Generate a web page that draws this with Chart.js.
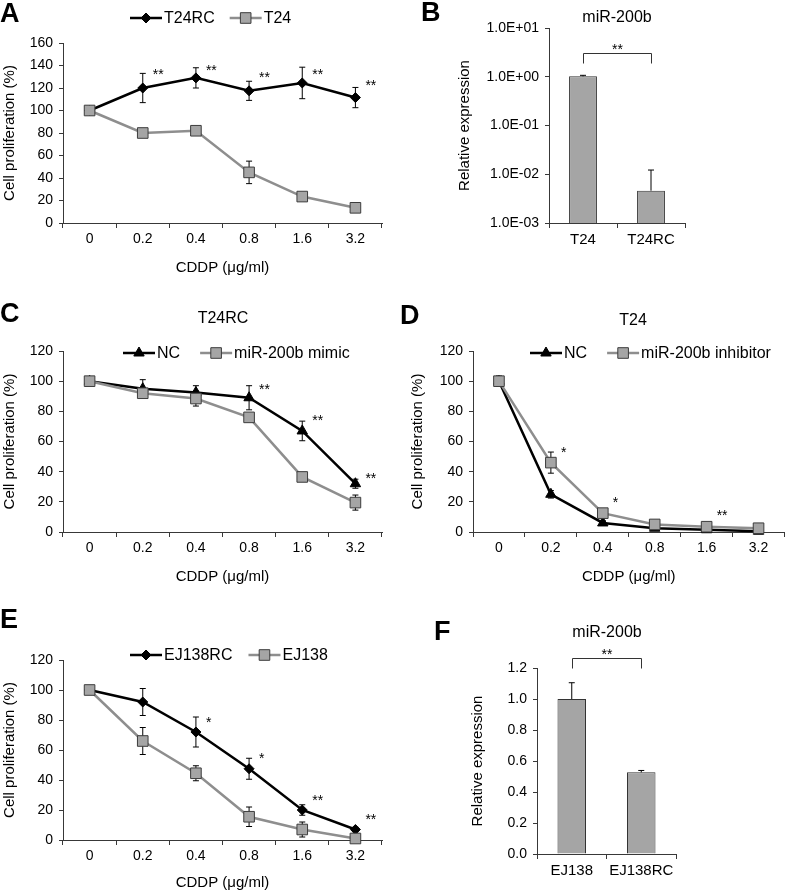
<!DOCTYPE html>
<html>
<head>
<meta charset="utf-8">
<script src="https://cdn.jsdelivr.net/npm/chart.js@4.4.0/dist/chart.umd.min.js"></script>
<style>
  body { margin: 0; background: #fff; }
  #fig { position: relative; width: 793px; height: 892px; overflow: hidden;
         font-family: "Liberation Sans", Arial, sans-serif; color: #000; }
  #fig canvas { position: absolute; }
  .lbl { position: absolute; font-weight: bold; font-size: 27px; line-height: 27px; }
  .ttl { position: absolute; font-size: 16px; line-height: 16px; transform: translateX(-50%); white-space: nowrap; }
</style>
</head>
<body>
<div id="fig">
  <canvas id="cA" width="396" height="285" style="left:0;top:0"></canvas>
  <canvas id="cB" width="393" height="285" style="left:400px;top:0"></canvas>
  <canvas id="cC" width="396" height="302" style="left:0;top:288px"></canvas>
  <canvas id="cD" width="393" height="302" style="left:400px;top:288px"></canvas>
  <canvas id="cE" width="396" height="297" style="left:0;top:595px"></canvas>
  <canvas id="cF" width="393" height="297" style="left:400px;top:595px"></canvas>

  <div class="lbl" style="left:0;top:0">A</div>
  <div class="lbl" style="left:421px;top:-1px">B</div>
  <div class="lbl" style="left:0;top:300px">C</div>
  <div class="lbl" style="left:400px;top:302px">D</div>
  <div class="lbl" style="left:0;top:606px">E</div>
  <div class="lbl" style="left:434px;top:618px">F</div>

  <div class="ttl" style="left:617px;top:9px">miR-200b</div>
  <div class="ttl" style="left:223px;top:310px">T24RC</div>
  <div class="ttl" style="left:633px;top:312px">T24</div>
  <div class="ttl" style="left:607px;top:624px">miR-200b</div>
</div>
<script>
// ---- data ----
const doses = ['0', '0.2', '0.4', '0.8', '1.6', '3.2'];

// A: T24RC vs T24
const aT24RC = [100, 120, 129, 117.5, 124.5, 111.5];
const aT24RCErr = [2, 13, 9, 8.5, 14, 9];
const aT24 = [100, 80, 82, 45, 23.5, 13.5];
const aT24Err = [2, 1.5, 1.5, 10, 2, 1.5];
const aSig = ['', '**', '**', '**', '**', '**'];
const aSigAt = [0, 135, 138.5, 132.5, 135, 125];

// B: miR-200b, log scale
const bCats = ['T24', 'T24RC'];
const bVals = [1.02, 0.0046];
const bErr = [0.05, 0.0076];
const bTickVals = [0.001, 0.01, 0.1, 1, 10];
const bTicks = ['1.0E-03', '1.0E-02', '1.0E-01', '1.0E+00', '1.0E+01'];

// C: T24RC, NC vs mimic
const cNC = [100, 95, 92.5, 89, 67, 32];
const cNCErr = [1.5, 6, 4.5, 8, 6.5, 3];
const cMimic = [100, 92, 88.5, 76, 36.5, 19.5];
const cMimicErr = [1, 2, 5, 2, 1.5, 5];
const cSig = ['', '', '', '**', '**', '**'];
const cSigAt = [0, 0, 0, 97, 76, 38];

// D: T24, NC vs inhibitor
const dNC = [100, 25, 6, 2.5, 1.5, 0.5];
const dNCErr = [2, 2.5, 1.5, 0.5, 0.5, 0.5];
const dInh = [100, 46, 12.5, 5, 3.5, 2.5];
const dInhErr = [3.5, 7, 1.5, 1, 1, 1];
const dSig = ['', '*', '*', '', '**', ''];
const dSigAt = [0, 55, 22, 0, 13, 0];

// E: EJ138RC vs EJ138
const eRC = [100, 92, 72, 47.5, 20, 7];
const eRCErr = [3, 9, 10, 7, 3.5, 1.5];
const eEJ = [100, 66, 44.5, 15.5, 7, 1];
const eEJErr = [2, 9, 5, 6.5, 5, 1];
const eSig = ['', '', '*', '*', '**', '**'];
const eSigAt = [0, 0, 81, 56.5, 29, 16];

// F: miR-200b, linear
const fCats = ['EJ138', 'EJ138RC'];
const fVals = [1.0, 0.527];
const fErr = [0.105, 0.012];
const fTicks = ['0.0', '0.2', '0.4', '0.6', '0.8', '1.0', '1.2'];

// ---- look ----
const fam = '"Liberation Sans", Arial, sans-serif';
Chart.defaults.font.family = fam;
Chart.defaults.color = '#000';
const axisColor = '#383838';

// error bars; bars get upper whisker only
const errorBars = {
  id: 'errorBars',
  beforeDatasetsDraw(chart, args, o) { if (!o.upOnly) draw(chart); },
  afterDatasetsDraw(chart, args, o) { if (o.upOnly) draw(chart, true); }
};
function draw(chart, upOnly) {
  const ctx = chart.ctx, ys = chart.scales.y;
  ctx.save();
  ctx.strokeStyle = '#000';
  ctx.lineWidth = 1;
  chart.data.datasets.forEach((ds, i) => {
    if (!ds.errors) return;
    chart.getDatasetMeta(i).data.forEach((el, j) => {
      const v = ds.data[j], e = ds.errors[j];
      const top = ys.getPixelForValue(v + e);
      const bot = upOnly ? ys.getPixelForValue(v) : ys.getPixelForValue(v - e);
      ctx.beginPath();
      ctx.moveTo(el.x, top); ctx.lineTo(el.x, bot);
      ctx.moveTo(el.x - 3, top); ctx.lineTo(el.x + 3, top);
      if (!upOnly) { ctx.moveTo(el.x - 3, bot); ctx.lineTo(el.x + 3, bot); }
      ctx.stroke();
    });
  });
  ctx.restore();
}

// significance stars next to points
const stars = {
  id: 'stars',
  afterDraw(chart, args, o) {
    if (!o.labels) return;
    const ctx = chart.ctx, xs = chart.scales.x, ys = chart.scales.y;
    ctx.save();
    ctx.font = '14px ' + fam;
    ctx.fillStyle = '#000';
    ctx.textAlign = 'left';
    o.labels.forEach((s, i) => {
      if (!s) return;
      ctx.fillText(s, xs.getPixelForValue(i) + 10, ys.getPixelForValue(o.at[i]) + 8);
    });
    ctx.restore();
  }
};

// bracket over the two bars
const bracket = {
  id: 'bracket',
  afterDraw(chart, args, o) {
    if (!o.text) return;
    const ctx = chart.ctx, xs = chart.scales.x;
    const y = Math.round(chart.scales.y.getPixelForValue(o.value)) + 0.5;
    const x0 = Math.round(xs.getPixelForValue(0)) + 0.5, x1 = Math.round(xs.getPixelForValue(1)) + 0.5;
    ctx.save();
    ctx.strokeStyle = '#333';
    ctx.lineWidth = 1;
    ctx.beginPath();
    ctx.moveTo(x0, y + 10); ctx.lineTo(x0, y); ctx.lineTo(x1, y); ctx.lineTo(x1, y + 10);
    ctx.stroke();
    ctx.font = '14px ' + fam;
    ctx.fillStyle = '#000';
    ctx.textAlign = 'center';
    ctx.fillText(o.text, (x0 + x1) / 2, y);
    ctx.restore();
  }
};

// legend: short line with its marker, then the label
const lineLegend = {
  id: 'lineLegend',
  afterDraw(chart, args, o) {
    if (o.x === undefined) return;
    const ctx = chart.ctx;
    let x = o.x - chart.canvas.offsetLeft;
    const y = o.y - chart.canvas.offsetTop;
    ctx.save();
    ctx.font = '16px ' + fam;
    ctx.textBaseline = 'middle';
    chart.data.datasets.forEach(ds => {
      ctx.strokeStyle = ds.borderColor;
      ctx.lineWidth = ds.borderWidth;
      ctx.beginPath(); ctx.moveTo(x, y); ctx.lineTo(x + 32, y); ctx.stroke();
      ctx.fillStyle = ds.pointBackgroundColor;
      ctx.strokeStyle = ds.pointBorderColor;
      ctx.lineWidth = ds.pointBorderWidth;
      Chart.helpers.drawPoint(ctx, { pointStyle: ds.pointStyle, radius: ds.pointRadius, rotation: 0, borderWidth: ds.pointBorderWidth }, x + 16, y);
      ctx.fillStyle = '#000';
      ctx.fillText(ds.label, x + 34, y + 1);
      x += 34 + ctx.measureText(ds.label).width + o.gap;
    });
    ctx.restore();
  }
};

// canvas box + plot area (page px) -> paddings / fixed scale sizes
function frame(box, area, yTitleX, xTitleY) {
  return {
    padding: { left: 0, top: area.t - box.y, right: box.x + box.w - area.r, bottom: 0 },
    yWidth: area.l - box.x,
    xHeight: box.y + box.h - area.b,
    yTitlePad: yTitleX - box.x - 9,
    xTitlePad: xTitleY ? Math.max(0, box.y + box.h - xTitleY - 9) : 0
  };
}

function xAxis(f, size, title) {
  return {
    type: 'category', offset: true,
    grid: { display: true, drawOnChartArea: false, drawTicks: true, tickLength: 5, offset: true, color: axisColor },
    border: { display: true, color: axisColor },
    ticks: { font: { size: size }, padding: 3, maxRotation: 0, autoSkip: false },
    title: title ? { display: true, text: title, font: { size: 15 }, padding: { top: 0, bottom: f.xTitlePad } } : { display: false },
    afterFit: s => { s.height = f.xHeight; }
  };
}
function yGrid(f, title) {
  return {
    grid: { display: true, drawOnChartArea: false, drawTicks: true, tickLength: 4, color: axisColor },
    border: { display: true, color: axisColor },
    title: { display: true, text: title, font: { size: 15 }, padding: { top: f.yTitlePad, bottom: 0 } },
    afterFit: s => { s.width = f.yWidth; }
  };
}

function blackSet(label, data, errors, style, r) {
  return { label, data, errors, order: 1, clip: false,
    borderColor: '#000', borderWidth: 2.5,
    pointStyle: style, pointRadius: r, pointBackgroundColor: '#000', pointBorderColor: '#000', pointBorderWidth: 1 };
}
function greySet(label, data, errors) {
  return { label, data, errors, order: 0, clip: false,
    borderColor: '#8e8e8e', borderWidth: 2.5,
    pointStyle: 'rect', pointRadius: 7.5, pointBackgroundColor: '#a5a5a5', pointBorderColor: '#3c3c3c', pointBorderWidth: 1 };
}

function linePanel(id, f, yMax, sets, sig, sigAt, legendAt) {
  const y = Object.assign(yGrid(f, 'Cell proliferation (%)'), {
    min: 0, max: yMax, ticks: { stepSize: 20, font: { size: 14 }, padding: 6 }
  });
  new Chart(document.getElementById(id), {
    type: 'line',
    data: { labels: doses, datasets: sets },
    options: {
      responsive: false, animation: false, events: [],
      layout: { padding: f.padding },
      scales: { x: xAxis(f, 14, 'CDDP (\u03bcg/ml)'), y: y },
      plugins: {
        legend: { display: false }, tooltip: { enabled: false },
        errorBars: {}, stars: { labels: sig, at: sigAt }, lineLegend: legendAt
      }
    },
    plugins: [errorBars, stars, lineLegend]
  });
}

function barPanel(id, f, cats, vals, errs, y, brk) {
  new Chart(document.getElementById(id), {
    type: 'bar',
    data: { labels: cats, datasets: [{ data: vals, errors: errs,
      backgroundColor: '#a5a5a5', borderColor: '#333', borderWidth: 1,
      barPercentage: 0.41, categoryPercentage: 1 }] },
    options: {
      responsive: false, animation: false, events: [],
      layout: { padding: f.padding },
      scales: { x: xAxis(f, 15), y: Object.assign(yGrid(f, 'Relative expression'), y) },
      plugins: {
        legend: { display: false }, tooltip: { enabled: false },
        errorBars: { upOnly: true }, bracket: brk
      }
    },
    plugins: [errorBars, bracket]
  });
}

// A
linePanel('cA',
  frame({ x: 0, y: 0, w: 396, h: 285 }, { l: 63, t: 43, r: 382, b: 223 }, 10, 268), 160,
  [blackSet('T24RC', aT24RC, aT24RCErr, 'rectRot', 5), greySet('T24', aT24, aT24Err)],
  aSig, aSigAt, { x: 130, y: 18, gap: 15 });

// B
barPanel('cB',
  frame({ x: 400, y: 0, w: 393, h: 285 }, { l: 549, t: 28, r: 685, b: 223 }, 465),
  bCats, bVals, bErr,
  { type: 'logarithmic', min: 0.001, max: 10,
    afterBuildTicks: s => { s.ticks = bTickVals.map(v => ({ value: v })); },
    ticks: { font: { size: 14 }, padding: 6, autoSkip: false, callback: (v, i) => bTicks[i] } },
  { value: 3.1, text: '**' });

// C
linePanel('cC',
  frame({ x: 0, y: 288, w: 396, h: 302 }, { l: 63, t: 351, r: 382, b: 532 }, 10, 577), 120,
  [blackSet('NC', cNC, cNCErr, 'triangle', 6), greySet('miR-200b mimic', cMimic, cMimicErr)],
  cSig, cSigAt, { x: 123, y: 353, gap: 20 });

// D
linePanel('cD',
  frame({ x: 400, y: 288, w: 393, h: 302 }, { l: 473, t: 351, r: 792, b: 532 }, 418, 577), 120,
  [blackSet('NC', dNC, dNCErr, 'triangle', 6), greySet('miR-200b inhibitor', dInh, dInhErr)],
  dSig, dSigAt, { x: 530, y: 353, gap: 20 });

// E
linePanel('cE',
  frame({ x: 0, y: 595, w: 396, h: 297 }, { l: 63, t: 660, r: 382, b: 840 }, 10, 883), 120,
  [blackSet('EJ138RC', eRC, eRCErr, 'rectRot', 5), greySet('EJ138', eEJ, eEJErr)],
  eSig, eSigAt, { x: 130, y: 655, gap: 16 });

// F
barPanel('cF',
  frame({ x: 400, y: 595, w: 393, h: 297 }, { l: 537, t: 668, r: 676, b: 854 }, 478),
  fCats, fVals, fErr,
  { min: 0, max: 1.2, ticks: { stepSize: 0.2, font: { size: 14 }, padding: 6, callback: (v, i) => fTicks[i] } },
  { value: 1.265, text: '**' });
</script>
</body>
</html>
